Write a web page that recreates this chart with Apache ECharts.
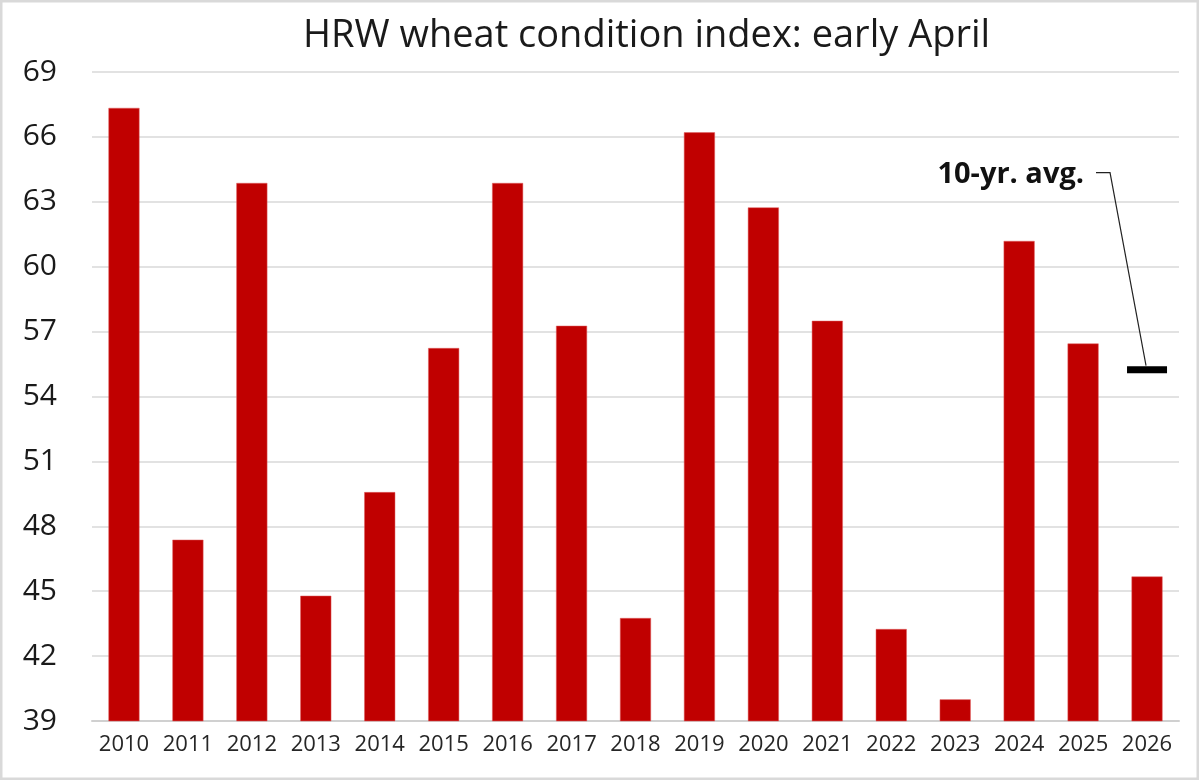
<!DOCTYPE html>
<html>
<head>
<meta charset="utf-8">
<script src="https://cdn.jsdelivr.net/npm/echarts@6/dist/echarts.min.js"></script>
<style>
  html, body { margin: 0; padding: 0; background: #fff; }
  #chart { width: 1199px; height: 780px; }
</style>
</head>
<body>
<div id="chart"></div>
<script>
const years = ['2010', '2011', '2012', '2013', '2014', '2015', '2016', '2017', '2018',
               '2019', '2020', '2021', '2022', '2023', '2024', '2025', '2026'];
const conditionIndex = [67.34, 47.38, 63.87, 44.79, 49.58, 56.24, 63.87, 57.27, 43.76,
                        66.21, 62.74, 57.5, 43.25, 40.0, 61.19, 56.45, 45.68];
const tenYearAvg = 55.24;
const avgYear = '2026';

const chart = echarts.init(document.getElementById('chart'));

// avg marker only on the last year
const avgData = years.map(y => (y === avgYear ? tenYearAvg : null));

const frame = {
    type: 'rect',
    shape: { x: 1, y: 1, width: 1197, height: 778 },
    style: { fill: 'none', stroke: '#d9d9d9', lineWidth: 3 },
    silent: true
};

chart.setOption({
    animation: false,
    textStyle: { fontFamily: '"Open Sans", "Noto Sans", sans-serif' },
    title: {
        text: 'HRW wheat condition index: early April',
        left: 298,
        top: 12,
        textStyle: { fontSize: 38, fontWeight: 'normal', color: '#1a1a1a' }
    },
    grid: { left: 92, right: 20, top: 72, bottom: 59 },
    xAxis: {
        type: 'category',
        data: years,
        axisTick: { show: false },
        axisLine: { lineStyle: { color: '#d0d0d0', width: 2 } },
        axisLabel: { color: '#262626', fontSize: 22, margin: 13, interval: 0, hideOverlap: false }
    },
    yAxis: {
        type: 'value',
        min: 39,
        max: 69,
        interval: 3,
        axisLine: { show: false },
        axisTick: { show: false },
        axisLabel: { color: '#1a1a1a', fontSize: 30, margin: 35 },
        splitLine: { lineStyle: { color: '#d9d9d9', width: 1.5 } }
    },
    series: [
        {
            type: 'bar',
            data: conditionIndex,
            barWidth: '48.5%',
            itemStyle: { color: '#c00000', borderColor: '#e06060', borderWidth: 0.5 }
        },
        {
            type: 'scatter',
            data: avgData,
            symbol: 'rect',
            symbolSize: [40, 7],
            itemStyle: { color: '#000', opacity: 1 },
            z: 5
        }
    ],
    graphic: [frame]
});

// leader line and label anchored to the avg marker
const p = chart.convertToPixel({ gridIndex: 0 }, [avgYear, tenYearAvg]);
chart.setOption({
    graphic: [
        frame,
        {
            type: 'polyline',
            shape: { points: [[p[0] - 51, p[1] - 197], [p[0] - 37, p[1] - 197], [p[0] - 1, p[1] - 4]] },
            style: { stroke: '#222', lineWidth: 1.2, fill: 'none' },
            z: 10
        },
        {
            type: 'text',
            x: p[0] - 63,
            y: p[1] - 195,
            style: {
                text: '10-yr. avg.',
                fill: '#111',
                font: 'bold 29px "Open Sans", "Noto Sans", sans-serif',
                align: 'right',
                verticalAlign: 'middle'
            },
            z: 10
        }
    ]
}, { replaceMerge: ['graphic'] });
</script>
</body>
</html>
